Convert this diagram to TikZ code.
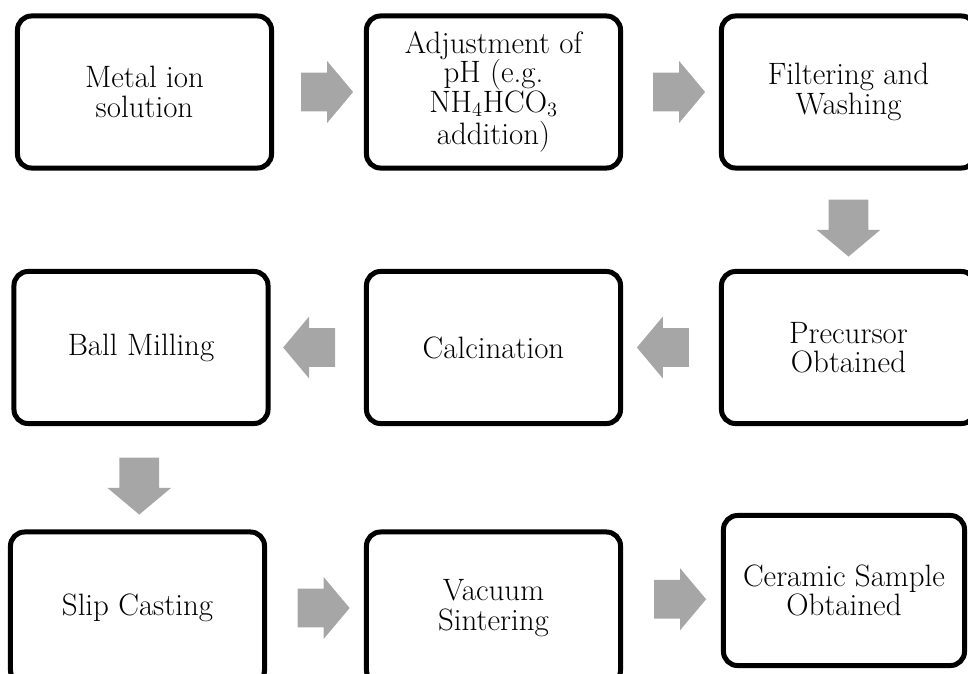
\documentclass[tikz,border=0pt]{standalone}
\usetikzlibrary{shapes.arrows,calc}
\definecolor{arrowgray}{RGB}{166,166,166}
\begin{document}
\begin{tikzpicture}[x=0.025cm,y=-0.025cm,
  b/.style={draw,line width=0.125cm,rounded corners=0.35cm,align=center,minimum width=6.35cm,minimum height=3.8cm,font=\fontsize{22}{21}\selectfont},
  blk/.style={single arrow,fill=arrowgray,inner xsep=0pt,inner ysep=0.475cm,single arrow head extend=0.29cm,single arrow tip angle=100,minimum height=1.3cm},
  dn/.style={blk,rotate=-90,inner ysep=0.4875cm,single arrow head extend=0.3cm,minimum height=1.425cm}]
\useasboundingbox (0,0) rectangle (968,673);
\clip (0,0) rectangle (968,673);
% first row
\node[b] (m) at (144.5,92) {Metal ion\\solution};
\node[b] (ad) at (493.5,92) {Adjustment of\\pH (e.g.\\NH$_4$HCO$_3$\\[2pt]addition)};
\node[b] (f) at (848.5,92) {Filtering and\\Washing};
% second row
\node[b] (p) at (848.5,347.5) {Precursor\\Obtained};
\node[b] (ca) at (493.5,347.5) {Calcination};
\node[b] (bm) at (141,347.5) {Ball Milling};
% third row
\node[b] (sc) at (137.5,608) {Slip Casting};
\node[b] (vs) at (493.5,608) {Vacuum\\Sintering};
\node[b,minimum width=6.025cm,minimum height=3.75cm] (cs) at (844,590.5) {Ceramic Sample\\Obtained};
% block arrows
\node[blk] at ($(m.east)!0.5!(ad.west)$) {};
\node[blk] at ($(ad.east)!0.5!(f.west)$) {};
\node[dn] at ($(f.south)!0.5!(p.north)$) {};
\node[blk,rotate=180] at ($(p.west)!0.5!(ca.east)$) {};
\node[blk,rotate=180] at ($(ca.west)!0.5!(bm.east)$) {};
\node[dn] at ($(bm.south)!0.5!(sc.north)$) {};
\node[blk] at ($(sc.east)!0.5!(vs.west)$) {};
\node[blk] at ($(vs.east)!0.5!(cs.west)$) {};
\end{tikzpicture}
\end{document}
